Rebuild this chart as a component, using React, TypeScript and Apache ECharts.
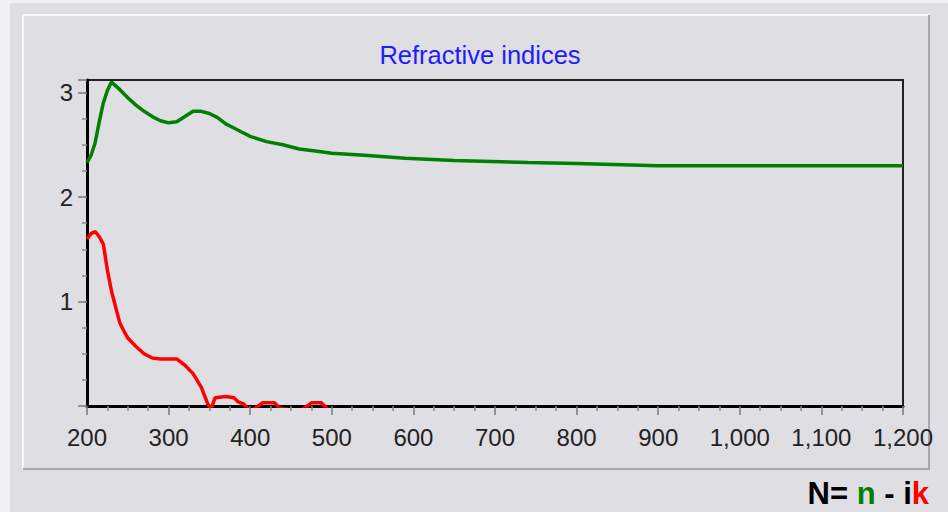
import React, { useEffect, useRef } from "react";
import * as echarts from "echarts";

// Wavelength (nm) and refractive index n (real part)
const nWavelengths = [200, 205, 210, 215, 220, 225, 230, 240, 250, 260, 270, 280, 290, 300, 310, 320, 330, 340, 350, 360, 370, 380, 390, 400, 420, 440, 460, 480, 500, 540, 590, 650, 740, 800, 900, 1000, 1100, 1200];
const nValues = [2.33, 2.40, 2.52, 2.72, 2.90, 3.02, 3.10, 3.03, 2.95, 2.88, 2.82, 2.77, 2.73, 2.71, 2.72, 2.77, 2.82, 2.82, 2.80, 2.76, 2.70, 2.66, 2.62, 2.58, 2.53, 2.50, 2.46, 2.44, 2.42, 2.40, 2.37, 2.35, 2.33, 2.32, 2.30, 2.30, 2.30, 2.30];

// Wavelength (nm) and extinction coefficient k (imaginary part)
const kWavelengths = [200, 205, 210, 215, 220, 225, 230, 235, 240, 245, 250, 260, 270, 280, 290, 300, 310, 320, 330, 340, 348, 352, 357, 370, 380, 385, 392, 400, 410, 415, 430, 436, 460, 470, 475, 487, 495, 520, 600, 800, 1000, 1200];
const kValues = [1.60, 1.65, 1.67, 1.62, 1.55, 1.30, 1.10, 0.95, 0.80, 0.72, 0.65, 0.57, 0.50, 0.46, 0.45, 0.45, 0.45, 0.39, 0.31, 0.18, 0.02, -0.03, 0.08, 0.09, 0.08, 0.04, 0.02, -0.05, 0.0, 0.03, 0.03, -0.02, -0.05, 0.0, 0.03, 0.03, -0.03, -0.1, -0.1, -0.1, -0.1, -0.1];

const xTickInterval = 100;
const yTickInterval = 1;

const FONT = "Liberation Sans, Arial, sans-serif";

export default function App() {
  const ref = useRef<HTMLDivElement>(null);

  useEffect(() => {
    if (!ref.current) return;
    const chart = echarts.init(ref.current, undefined, { renderer: "svg" });

    const nData = nWavelengths.map((w, i) => [w, nValues[i]]);
    const kData = kWavelengths.map((w, i) => [w, kValues[i]]);

    chart.setOption({
      animation: false,
      backgroundColor: "#dfdee3",
      title: {
        text: "Refractive indices",
        left: 475,
        textAlign: "center",
        top: 37,
        textStyle: { color: "#1c1cff", fontSize: 25.5, fontWeight: "normal", fontFamily: FONT },
      },
      grid: {
        left: 87,
        right: 45,
        top: 80,
        bottom: 106,
        show: true,
        borderColor: "#222",
        borderWidth: 2,
        backgroundColor: "transparent",
      },
      xAxis: {
        type: "value",
        min: 200,
        max: 1200,
        interval: xTickInterval,
        axisLine: { show: true, lineStyle: { color: "#000", width: 3 } },
        axisTick: { show: true, length: 9, lineStyle: { color: "#777", width: 1.5 } },
        minorTick: { show: true, splitNumber: 4, length: 5, lineStyle: { color: "#888", width: 1.5 } },
        splitLine: { show: false },
        axisLabel: {
          margin: 19,
          color: "#222",
          fontSize: 24,
          fontFamily: FONT,
          formatter: (v: number) => v.toLocaleString("en-US"),
        },
      },
      yAxis: {
        type: "value",
        min: 0,
        max: 3.12,
        interval: yTickInterval,
        axisLine: { show: true, lineStyle: { color: "#000", width: 3 } },
        axisTick: { show: true, length: 9, lineStyle: { color: "#777", width: 1.5 } },
        minorTick: { show: true, splitNumber: 4, length: 5, lineStyle: { color: "#888", width: 1.5 } },
        splitLine: { show: false },
        axisLabel: {
          margin: 14,
          color: "#222",
          fontSize: 24,
          fontFamily: FONT,
          formatter: (v: number) => (v === 0 ? "" : String(v)),
        },
      },
      series: [
        {
          name: "n",
          type: "line",
          data: nData,
          showSymbol: false,
          clip: true,
          lineStyle: { color: "#008000", width: 3.5 },
          itemStyle: { color: "#008000" },
          z: 3,
        },
        {
          name: "k",
          type: "line",
          data: kData,
          showSymbol: false,
          clip: true,
          lineStyle: { color: "#ff0000", width: 3.5 },
          itemStyle: { color: "#ff0000" },
          z: 3,
        },
      ],
      graphic: [
        { type: "rect", shape: { x: 0, y: 0, width: 10, height: 512 }, style: { fill: "#f1f1f3" }, z: -1 },
        { type: "rect", shape: { x: 0, y: 0, width: 948, height: 3 }, style: { fill: "#f1f1f3" }, z: -1 },
        { type: "line", shape: { x1: 23, y1: 15, x2: 929, y2: 15 }, style: { stroke: "#f8f8fa", lineWidth: 2 } },
        { type: "line", shape: { x1: 23, y1: 15, x2: 23, y2: 469 }, style: { stroke: "#f8f8fa", lineWidth: 2 } },
        { type: "line", shape: { x1: 929, y1: 15, x2: 929, y2: 470 }, style: { stroke: "#a9a9ad", lineWidth: 2 } },
        { type: "line", shape: { x1: 23, y1: 469, x2: 929, y2: 469 }, style: { stroke: "#a9a9ad", lineWidth: 2 } },
        {
          type: "text",
          x: 929,
          y: 493,
          style: {
            text: "{b|N=} {g|n} {b|-} {b|i}{r|k}",
            align: "right",
            verticalAlign: "middle",
            rich: {
              b: { fontSize: 31, fontWeight: "bold", fill: "#000", fontFamily: FONT },
              g: { fontSize: 31, fontWeight: "bold", fill: "#008000", fontFamily: FONT },
              r: { fontSize: 31, fontWeight: "bold", fill: "#ff0000", fontFamily: FONT },
            },
            fontSize: 31,
            fontWeight: "bold",
            fontFamily: FONT,
          },
        },
      ],
    });

    return () => chart.dispose();
  }, []);

  return (
    <div
      ref={ref}
      style={{ position: "fixed", left: 0, top: 0, width: 948, height: 512 }}
    />
  );
}
